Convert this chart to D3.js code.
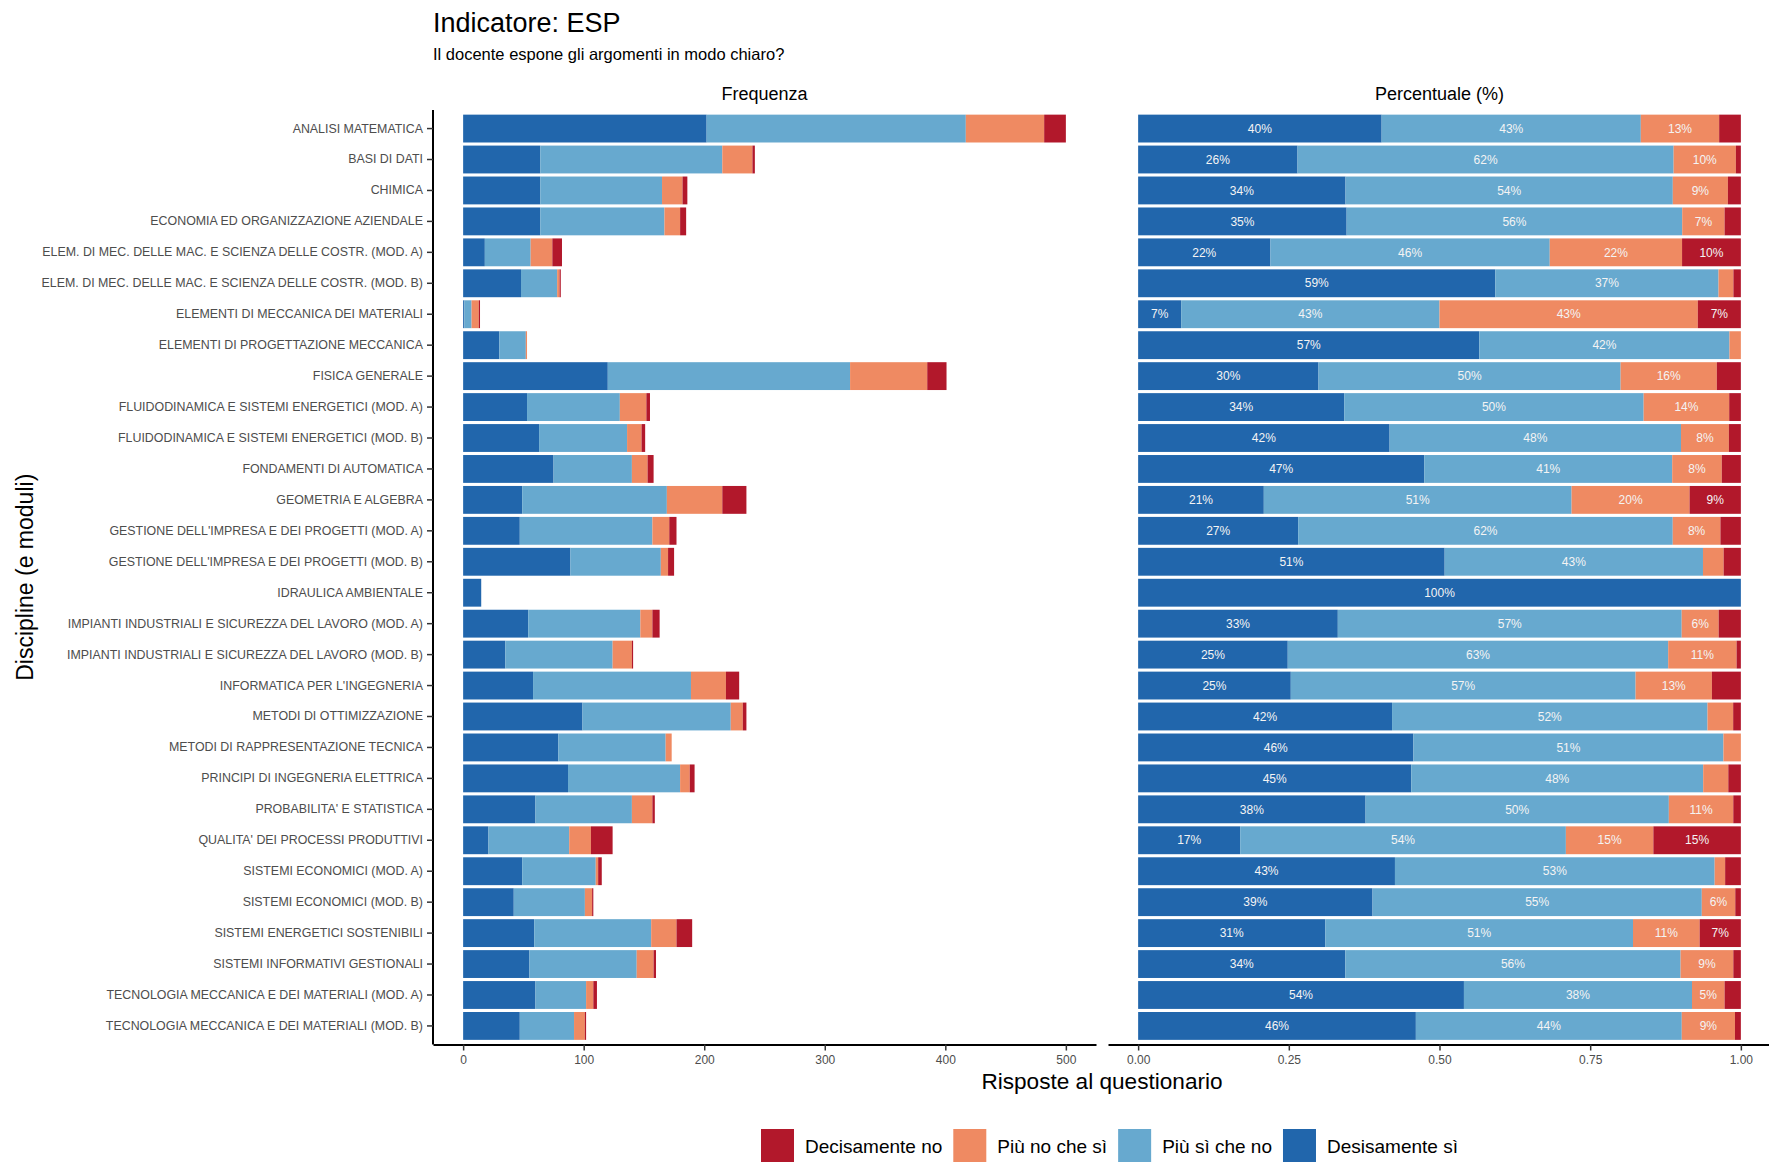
<!DOCTYPE html>
<html>
<head>
<meta charset="utf-8">
<script src="https://cdn.jsdelivr.net/npm/d3@7"></script>
<style>
  body { margin: 0; background: #fff; }
  svg { font-family: "Liberation Sans", Arial, sans-serif; }
</style>
</head>
<body>
<div id="chart"></div>
<script>
const categories = [
    "ANALISI MATEMATICA",
    "BASI DI DATI",
    "CHIMICA",
    "ECONOMIA ED ORGANIZZAZIONE AZIENDALE",
    "ELEM. DI MEC. DELLE MAC. E SCIENZA DELLE COSTR. (MOD. A)",
    "ELEM. DI MEC. DELLE MAC. E SCIENZA DELLE COSTR. (MOD. B)",
    "ELEMENTI DI MECCANICA DEI MATERIALI",
    "ELEMENTI DI PROGETTAZIONE MECCANICA",
    "FISICA GENERALE",
    "FLUIDODINAMICA E SISTEMI ENERGETICI (MOD. A)",
    "FLUIDODINAMICA E SISTEMI ENERGETICI (MOD. B)",
    "FONDAMENTI DI AUTOMATICA",
    "GEOMETRIA E ALGEBRA",
    "GESTIONE DELL'IMPRESA E DEI PROGETTI (MOD. A)",
    "GESTIONE DELL'IMPRESA E DEI PROGETTI (MOD. B)",
    "IDRAULICA AMBIENTALE",
    "IMPIANTI INDUSTRIALI E SICUREZZA DEL LAVORO (MOD. A)",
    "IMPIANTI INDUSTRIALI E SICUREZZA DEL LAVORO (MOD. B)",
    "INFORMATICA PER L'INGEGNERIA",
    "METODI DI OTTIMIZZAZIONE",
    "METODI DI RAPPRESENTAZIONE TECNICA",
    "PRINCIPI DI INGEGNERIA ELETTRICA ",
    "PROBABILITA' E STATISTICA",
    "QUALITA' DEI PROCESSI PRODUTTIVI",
    "SISTEMI ECONOMICI (MOD. A)",
    "SISTEMI ECONOMICI (MOD. B)",
    "SISTEMI ENERGETICI SOSTENIBILI",
    "SISTEMI INFORMATIVI GESTIONALI",
    "TECNOLOGIA MECCANICA E DEI MATERIALI (MOD. A)",
    "TECNOLOGIA MECCANICA E DEI MATERIALI (MOD. B)"
];

// counts per answer, same order as categories
const desisamenteSi = [202, 64, 64, 64, 18, 48, 1, 30, 120, 53, 63, 75, 49, 47, 89, 15, 54, 35, 58, 99, 79, 87, 60, 21, 49, 42, 59, 55, 60, 47];
const piuSiCheNo    = [215, 151, 101, 103, 38, 30, 6, 22, 201, 77, 73, 65, 120, 110, 75, 0, 93, 89, 131, 123, 89, 93, 80, 67, 61, 59, 97, 89, 42, 45];
const piuNoCheSi    = [65, 25, 17, 13, 18, 2, 6, 1, 64, 22, 12, 13, 46, 14, 6, 0, 10, 16, 29, 10, 5, 8, 17, 18, 2, 6, 21, 14, 6, 9];
const decisamenteNo = [18, 2, 4, 5, 8, 1, 1, 0, 16, 3, 3, 5, 20, 6, 5, 0, 6, 1, 11, 3, 0, 4, 2, 18, 3, 1, 13, 2, 3, 1];

const seriesNames = ["Desisamente sì", "Più sì che no", "Più no che sì", "Decisamente no"];
const seriesValues = [desisamenteSi, piuSiCheNo, piuNoCheSi, decisamenteNo];
const seriesColors = ["#2166ac", "#67a9cf", "#ef8a62", "#b2182b"];
const legendOrder = ["Decisamente no", "Più no che sì", "Più sì che no", "Desisamente sì"];

const freqTicks = [0, 100, 200, 300, 400, 500];
const pctTicks = [0, 0.25, 0.5, 0.75, 1];

const W = 1769, H = 1162;
const panelW = 663, gap = 12;
const leftX = 433, rightX = leftX + panelW + gap;
const plotTop = 110, plotBottom = 1044.5;

const svg = d3.select("#chart").append("svg")
    .attr("width", W)
    .attr("height", H);

// build rows with stacked segments
const rows = categories.map((c, i) => {
    const total = d3.sum(seriesValues, s => s[i]);
    let acc = 0;
    const segs = seriesValues.map((s, k) => {
        const seg = {cat: c, key: seriesNames[k], color: seriesColors[k],
            x0: acc, x1: acc + s[i], p0: acc / total, p1: (acc + s[i]) / total, pct: s[i] / total};
        acc += s[i];
        return seg;
    });
    return {cat: c, total, segs};
});

const maxTotal = d3.max(rows, r => r.total);

const y = d3.scaleBand()
    .domain(categories)
    .range([plotTop, plotBottom])
    .paddingInner(0.1)
    .paddingOuter(0.15);

const xF = d3.scaleLinear()
    .domain([-0.05 * maxTotal, 1.05 * maxTotal])
    .range([leftX, leftX + panelW]);
const xP = d3.scaleLinear()
    .domain([-0.05, 1.05])
    .range([rightX, rightX + panelW]);

// titles
svg.append("text")
    .attr("x", leftX).attr("y", 32)
    .style("font-size", "27px")
    .text("Indicatore: ESP");
svg.append("text")
    .attr("x", leftX).attr("y", 60)
    .style("font-size", "16.5px")
    .text("Il docente espone gli argomenti in modo chiaro?");

svg.append("text")
    .attr("x", leftX + panelW / 2).attr("y", 100)
    .attr("text-anchor", "middle")
    .style("font-size", "18px")
    .text("Frequenza");
svg.append("text")
    .attr("x", rightX + panelW / 2).attr("y", 100)
    .attr("text-anchor", "middle")
    .style("font-size", "18px")
    .text("Percentuale (%)");

// left panel bars
const allSegs = rows.flatMap(r => r.segs).filter(s => s.x1 > s.x0);

svg.append("g").selectAll("rect")
    .data(allSegs)
    .join("rect")
    .attr("x", d => xF(d.x0))
    .attr("width", d => xF(d.x1) - xF(d.x0))
    .attr("y", d => y(d.cat))
    .attr("height", y.bandwidth())
    .attr("fill", d => d.color);

// right panel bars
svg.append("g").selectAll("rect")
    .data(allSegs)
    .join("rect")
    .attr("x", d => xP(d.p0))
    .attr("width", d => xP(d.p1) - xP(d.p0))
    .attr("y", d => y(d.cat))
    .attr("height", y.bandwidth())
    .attr("fill", d => d.color);

svg.append("g").selectAll("text")
    .data(allSegs.filter(d => d.pct >= 0.05))
    .join("text")
    .attr("x", d => (xP(d.p0) + xP(d.p1)) / 2)
    .attr("y", d => y(d.cat) + y.bandwidth() / 2)
    .attr("dy", "0.35em")
    .attr("text-anchor", "middle")
    .attr("fill", "#f4f4f4")
    .style("font-size", "12px")
    .text(d => Math.round(d.pct * 100) + "%");

// axes
function styleAxis(g, size) {
    g.select(".domain").attr("stroke", "#000").attr("stroke-width", 2);
    g.selectAll(".tick line").attr("stroke", "#333").attr("stroke-width", 1.5);
    g.selectAll(".tick text").attr("fill", "#4d4d4d").style("font-size", size || "12px")
        .style("font-family", "Liberation Sans, Arial, sans-serif");
}

svg.append("g")
    .attr("transform", `translate(${leftX},0)`)
    .call(d3.axisLeft(y).tickSize(6).tickPadding(4).tickSizeOuter(0))
    .call(g => styleAxis(g, "12.4px"))
    .call(g => g.select(".domain").attr("d", `M0,${plotTop}V${plotBottom}`));

svg.append("g")
    .attr("transform", `translate(0,${plotBottom})`)
    .call(d3.axisBottom(xF).tickValues(freqTicks).tickSize(6).tickPadding(5).tickSizeOuter(0))
    .call(g => styleAxis(g));

svg.append("g")
    .attr("transform", `translate(0,${plotBottom})`)
    .call(d3.axisBottom(xP).tickValues(pctTicks).tickFormat(d3.format(".2f"))
        .tickSize(6).tickPadding(5).tickSizeOuter(0))
    .call(g => styleAxis(g));

// axis titles
svg.append("text")
    .attr("x", (leftX + rightX + panelW) / 2).attr("y", 1089)
    .attr("text-anchor", "middle")
    .style("font-size", "22.6px")
    .text("Risposte al questionario");

svg.append("text")
    .attr("transform", `translate(33,${(plotTop + plotBottom) / 2}) rotate(-90)`)
    .attr("text-anchor", "middle")
    .style("font-size", "23px")
    .text("Discipline (e moduli)");

// legend
const legend = svg.append("g")
    .attr("transform", "translate(761,1129)");
let lx = 0;
legendOrder.forEach(name => {
    const k = seriesNames.indexOf(name);
    legend.append("rect")
        .attr("x", lx).attr("y", 0)
        .attr("width", 33).attr("height", 33)
        .attr("fill", seriesColors[k]);
    const t = legend.append("text")
        .attr("x", lx + 44).attr("y", 17)
        .attr("dy", "0.35em")
        .style("font-size", "19px")
        .text(name);
    lx += 44 + t.node().getComputedTextLength() + 11;
});
</script>
</body>
</html>
